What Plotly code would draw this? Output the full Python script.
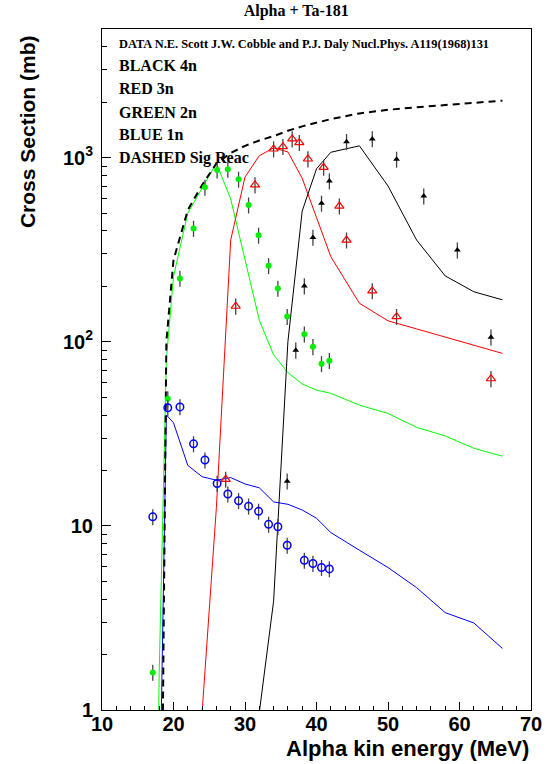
import plotly.graph_objects as go

# ---------------- experimental data (mb) ----------------
e_4n = [35.9, 37.1, 38.3, 39.5, 40.7, 41.8, 44.2, 47.8, 51.2, 55.0, 59.7, 64.4]
s_4n = [17.5, 90, 201, 369, 565, 747, 1222, 1265, 980, 619, 315, 106]

e_3n = [27.3, 28.7, 31.4, 34.0, 35.3, 36.6, 37.6, 38.8, 41.0, 43.2, 44.2, 47.8, 51.2, 64.4]
s_3n = [17.9, 156, 711, 1115, 1148, 1264, 1207, 984, 887, 546, 357, 189, 137, 63]

e_2n = [17.1, 19.2, 20.9, 22.8, 24.4, 26.1, 27.6, 29.1, 30.5, 31.9, 33.3, 34.6, 35.9, 38.3, 39.5, 40.7, 41.8]
s_2n = [1.6, 49, 221, 413, 690, 857, 865, 763, 553, 379, 259, 195, 137, 110, 94, 76, 79]

e_1n = [17.1, 19.2, 20.9, 22.8, 24.4, 26.1, 27.6, 29.1, 30.5, 31.9, 33.3, 34.6, 35.9, 38.3, 39.5, 40.7, 41.8]
s_1n = [11.2, 43.8, 44.3, 27.9, 22.8, 17.0, 14.9, 13.7, 12.8, 12.0, 10.2, 9.9, 7.85, 6.5, 6.25, 5.94, 5.84]

err_pct = 10

# ---------------- calculated curves (mb) ----------------
th_e = [17, 18, 19, 20, 22, 24, 26, 28, 30, 32, 34, 36, 38, 40, 42, 46, 50, 54, 58, 62, 66]
th_4n = [0.001, 0.001, 0.001, 0.001, 0.001, 0.001, 0.001, 0.001, 0.001, 0.97, 3.9, 100, 513, 870,
         1070, 1160, 702, 357, 228, 187, 169]
th_3n = [0.001, 0.001, 0.001, 0.001, 0.001, 0.97, 12.6, 357, 785, 1025, 1130, 1075, 773, 473,
         290, 162, 130, 117.5, 106, 95.7, 86.5]
th_2n = [0.001, 1.6, 80, 226, 500, 680, 933, 597, 280, 131, 85, 68, 59, 54.7, 52.5, 45.3, 40.8,
         34.3, 30.8, 26.4, 23.9]
th_1n = [0.001, 0.2, 40, 36.3, 21.3, 18.5, 17.7, 18.3, 16.9, 16.1, 13.5, 13.1, 12.2, 11.0, 9.2,
         7.38, 5.94, 4.62, 3.38, 2.97, 2.16]
th_reac = [0.001, 0.0066, 100, 278, 520, 711, 930, 1060, 1160, 1240, 1310, 1400, 1480, 1550,
           1620, 1740, 1820, 1880, 1930, 1990, 2040]

y_tickvals = [1, 10, 100, 1000]
y_ticktext = ["1", "10", "10<sup>2</sup>", "10<sup>3</sup>"]

title_text = "Alpha + Ta-181"
legend_lines = [
    "DATA N.E. Scott J.W. Cobble and P.J. Daly Nucl.Phys. A119(1968)131",
    "BLACK 4n", "RED 3n", "GREEN 2n", "BLUE 1n", "DASHED Sig Reac",
]
x_title = "Alpha kin energy (MeV)"
y_title = "Cross Section (mb)"

fig = go.Figure()

# theory curves
fig.add_trace(go.Scatter(x=th_e, y=th_1n, mode="lines", line=dict(color="#0000ff", width=1)))
fig.add_trace(go.Scatter(x=th_e, y=th_2n, mode="lines", line=dict(color="#00ff00", width=1)))
fig.add_trace(go.Scatter(x=th_e, y=th_3n, mode="lines", line=dict(color="#ff0000", width=1)))
fig.add_trace(go.Scatter(x=th_e, y=th_4n, mode="lines", line=dict(color="black", width=1)))
fig.add_trace(go.Scatter(x=th_e, y=th_reac, mode="lines",
                         line=dict(color="black", width=2, dash="7px,5px")))

err = dict(type="percent", value=err_pct, color="#444444", thickness=1.3, width=0)

fig.add_trace(go.Scatter(x=e_4n, y=s_4n, mode="markers", error_y=err,
                         marker=dict(symbol="triangle-up", size=6, color="black")))
fig.add_trace(go.Scatter(x=e_3n, y=s_3n, mode="markers", error_y=err,
                         marker=dict(symbol="triangle-up-open", size=8, color="#ff0000",
                                     line=dict(width=1.2, color="#ff0000"))))
fig.add_trace(go.Scatter(x=e_2n, y=s_2n, mode="markers", error_y=err,
                         marker=dict(symbol="circle", size=6, color="#00f000",
                                     line=dict(width=0))))
fig.add_trace(go.Scatter(x=e_1n, y=s_1n, mode="markers", error_y=err,
                         marker=dict(symbol="circle-open", size=7.5, color="#0000ff",
                                     line=dict(width=1.5, color="#0000ff"))))

tickfont = dict(family="Liberation Sans, Arial, sans-serif", size=20, color="black", weight="bold")

minor_y = [v * 10 ** d for d in range(0, 4) for v in range(2, 10) if v * 10 ** d < 5000]

fig.update_layout(
    width=559, height=764,
    margin=dict(l=102, r=28, t=29, b=54),
    paper_bgcolor="white", plot_bgcolor="white",
    showlegend=False,
    title=dict(text=title_text, x=0.53, xanchor="center", y=0.986, yanchor="middle",
               font=dict(family="Liberation Serif, Times New Roman, serif", size=16,
                         color="black", weight="bold")),
    xaxis=dict(range=[10, 70], tick0=10, dtick=10, ticks="inside", ticklen=8, tickwidth=1,
               tickcolor="black", showline=True, mirror=True, linecolor="black", linewidth=1,
               showgrid=False, zeroline=False, tickfont=tickfont, ticklabelstandoff=-4,
               minor=dict(dtick=2, ticks="inside", ticklen=4, tickcolor="black", showgrid=False)),
    yaxis=dict(type="log", range=[0, 3.699], tickmode="array", tickvals=y_tickvals,
               ticktext=y_ticktext, ticks="inside", ticklabelstandoff=4,
               ticklen=9, tickwidth=1, tickcolor="black", showline=True, mirror=True,
               linecolor="black", linewidth=1, showgrid=False, zeroline=False, tickfont=tickfont,
               minor=dict(tickmode="array", tickvals=minor_y, ticks="inside", ticklen=5,
                          tickcolor="black", showgrid=False)),
)

serif = "Liberation Serif, Times New Roman, serif"
leg_y = [0.978, 0.946, 0.912, 0.878, 0.845, 0.811]
for i, txt in enumerate(legend_lines):
    fig.add_annotation(text=txt, xref="paper", yref="paper", x=0.034, y=leg_y[i],
                       xanchor="left", yanchor="middle", showarrow=False,
                       font=dict(family=serif, size=12.4 if i == 0 else 16, color="black",
                                 weight="bold"))

fig.add_annotation(text=x_title, xref="paper", yref="paper", x=1.0, y=-0.056,
                   xanchor="right", yanchor="middle", showarrow=False,
                   font=dict(family="Liberation Sans, Arial, sans-serif", size=22,
                             color="black", weight="bold"))
fig.add_annotation(text=y_title, xref="paper", yref="paper", x=-0.175, y=0.85,
                   xanchor="center", yanchor="middle", showarrow=False, textangle=-90,
                   font=dict(family="Liberation Sans, Arial, sans-serif", size=21,
                             color="black", weight="bold"))

# remove the browser's default 8px page margin so the figure fills the window exactly
fig.write_html("out.html", config={"displayModeBar": False},
               post_script="document.body.style.margin='0';")
